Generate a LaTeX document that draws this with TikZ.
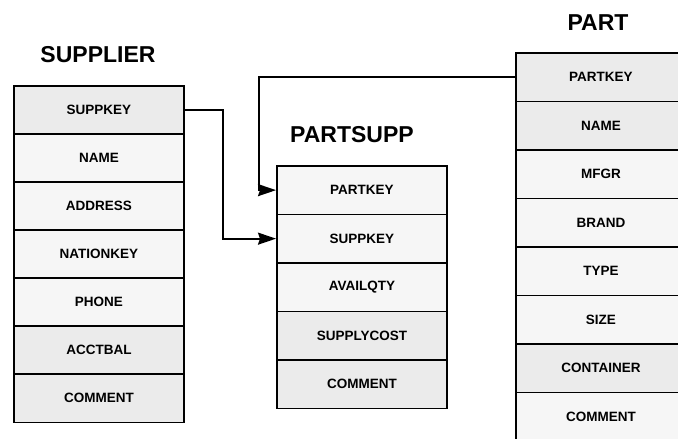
\documentclass[tikz,border=0pt]{standalone}
\usepackage{fontspec}
\setmainfont{Liberation Sans}
\usetikzlibrary{arrows.meta,positioning}
\tikzset{
  fld/.style={draw=black, line width=1.8pt, minimum width=170pt, minimum height=48.5pt,
    inner sep=0pt, anchor=north west, font=\bfseries\fontsize{13.5}{15}\selectfont},
  lt/.style={fld, fill=gray!7},
  dk/.style={fld, fill=gray!16},
  ttl/.style={font=\bfseries\fontsize{23}{25}\selectfont},
  link/.style={line width=1.8pt, -{Stealth[length=18pt,width=12pt,inset=2pt]}}
}
\begin{document}
\begin{tikzpicture}[x=1pt,y=-1pt]
\useasboundingbox (0,0) rectangle (678,439);
\clip (0,0) rectangle (678,439);
% titles
\node[ttl] (tsup) at (98,55) {SUPPLIER};
\node[ttl] (tps) at (352,135) {PARTSUPP};
\node[ttl] (tpart) at (598,23) {PART};
% SUPPLIER
\node[dk] (s1) at (13,85) {SUPPKEY};
\node[lt] (s2) at (13,133) {NAME};
\node[lt] (s3) at (13,181) {ADDRESS};
\node[lt] (s4) at (13,229) {NATIONKEY};
\node[lt] (s5) at (13,277) {PHONE};
\node[dk] (s6) at (13,325) {ACCTBAL};
\node[dk] (s7) at (13,373) {COMMENT};
% PARTSUPP
\node[lt] (ps1) at (276,165) {PARTKEY};
\node[lt] (ps2) at (276,213.5) {SUPPKEY};
\node[lt] (ps3) at (276,262) {AVAILQTY};
\node[dk] (ps4) at (276,310.5) {SUPPLYCOST};
\node[dk] (ps5) at (276,359) {COMMENT};
% PART
\node[dk] (p1) at (515,52) {PARTKEY};
\node[dk] (p2) at (515,100.5) {NAME};
\node[lt] (p3) at (515,149) {MFGR};
\node[lt] (p4) at (515,197.5) {BRAND};
\node[lt] (p5) at (515,246) {TYPE};
\node[lt] (p6) at (515,294.5) {SIZE};
\node[dk] (p7) at (515,343) {CONTAINER};
\node[lt] (p8) at (515,391.5) {COMMENT};
% links
\draw[link] (s1.east) -| ([xshift=-53pt]ps2.west) -- (ps2.west);
\draw[link] (p1.west) -| ([xshift=-17pt]ps1.west) -- (ps1.west);
\end{tikzpicture}
\end{document}
